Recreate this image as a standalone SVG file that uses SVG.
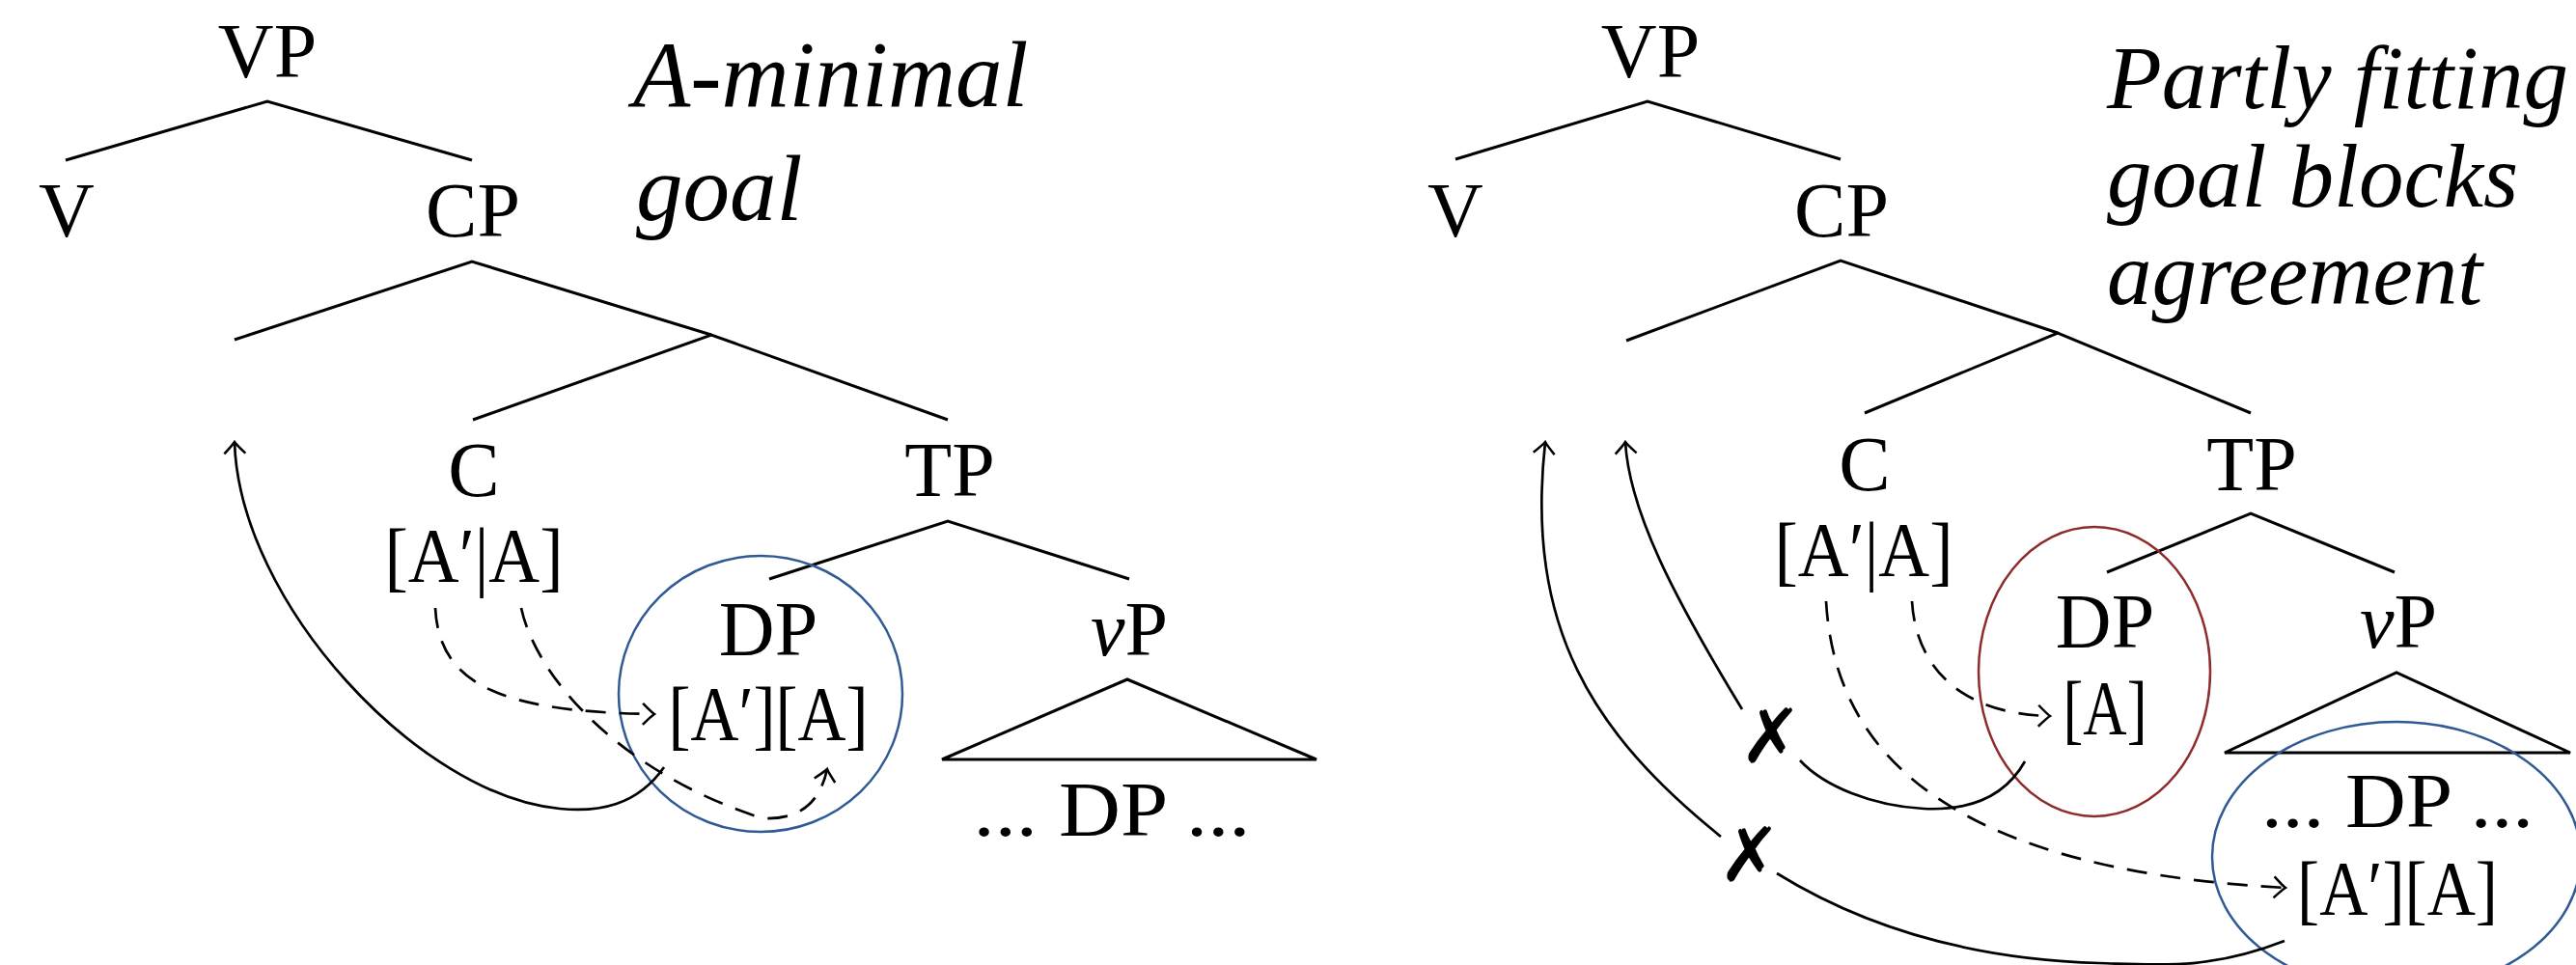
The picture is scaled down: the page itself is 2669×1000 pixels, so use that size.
<svg xmlns="http://www.w3.org/2000/svg" width="2669" height="1000" viewBox="0 0 2669 1000">
<style>
.t{font-family:"Liberation Serif","Times New Roman",serif;font-size:80px;text-anchor:middle;fill:#000}
.ti{font-family:"Liberation Serif","Times New Roman",serif;font-style:italic;fill:#000}
.br{stroke:#000;stroke-width:3;fill:none;stroke-linejoin:miter}
.cv{stroke:#000;stroke-width:2.7;fill:none}
.ds{stroke-dasharray:21 14}
.x{font-family:"DejaVu Sans",sans-serif;font-weight:bold;font-size:78px;text-anchor:middle;fill:#000}
</style>
<defs>
<marker id="ar" markerUnits="userSpaceOnUse" markerWidth="30" markerHeight="30" viewBox="-15 -15 30 30" refX="0" refY="0" orient="auto">
<path d="M-12,-11 Q-3,-2 0,0 Q-3,2 -12,11" fill="none" stroke="#000" stroke-width="2.5"/>
</marker>
</defs>

<g id="titles">
<text class="ti" x="656" y="110" font-size="97">A-minimal</text>
<text class="ti" x="659" y="228" font-size="97">goal</text>
<text class="ti" x="2183" y="112" font-size="93">Partly fitting</text>
<text class="ti" x="2183" y="214" font-size="93">goal blocks</text>
<text class="ti" x="2183" y="315" font-size="93">agreement</text>
</g>

<g id="left-tree">
<g id="L-branches">
<path class="br" d="M68,166 L277,105 L489,166"/>
<path class="br" d="M243,352 L489,271 L737,347"/>
<path class="br" d="M490,435 L737,347 L982,435"/>
<path class="br" d="M797,600 L982,540 L1170,600"/>
</g>
<g id="L-VP"><text class="t" x="277" y="80">VP</text></g>
<g id="L-V"><text class="t" x="69" y="245">V</text></g>
<g id="L-CP"><text class="t" x="490" y="245">CP</text></g>
<g id="L-C"><text class="t" x="491" y="514">C</text><text class="t" x="491" y="603" textLength="185" lengthAdjust="spacingAndGlyphs">[A′|A]</text></g>
<g id="L-TP"><text class="t" x="984" y="514">TP</text></g>
<g id="L-DP"><text class="t" x="796" y="679">DP</text><text class="t" x="796" y="767" textLength="207" lengthAdjust="spacingAndGlyphs">[A′][A]</text>
<ellipse cx="788" cy="719" rx="147" ry="143" fill="none" stroke="#2f5a96" stroke-width="2.5"/></g>
<g id="L-vP"><text class="t" x="1170" y="679"><tspan font-style="italic">v</tspan>P</text>
<path class="br" d="M976,787 L1168,704 L1364,787 Z" stroke-width="3.5"/>
<text class="t" x="1152" y="866" textLength="287" lengthAdjust="spacingAndGlyphs">... DP ...</text></g>
</g>

<g id="right-tree">
<g id="R-branches">
<path class="br" d="M1508,165 L1707,105 L1907,165"/>
<path class="br" d="M1685,353 L1907,270 L2132,345"/>
<path class="br" d="M1932,428 L2132,345 L2332,428"/>
<path class="br" d="M2183,593 L2332,532 L2481,593"/>
</g>
<g id="R-VP"><text class="t" x="1710" y="80">VP</text></g>
<g id="R-V"><text class="t" x="1508" y="245">V</text></g>
<g id="R-CP"><text class="t" x="1908" y="245">CP</text></g>
<g id="R-C"><text class="t" x="1932" y="508">C</text><text class="t" x="1931" y="597" textLength="185" lengthAdjust="spacingAndGlyphs">[A′|A]</text></g>
<g id="R-TP"><text class="t" x="2333" y="508">TP</text></g>
<g id="R-DP"><text class="t" x="2181" y="671">DP</text><text class="t" x="2181" y="761" textLength="87" lengthAdjust="spacingAndGlyphs">[A]</text>
<ellipse cx="2170" cy="696" rx="120" ry="150" fill="none" stroke="#8e2c2c" stroke-width="2.5"/></g>
<g id="R-vP"><text class="t" x="2485" y="671"><tspan font-style="italic">v</tspan>P</text>
<path class="br" d="M2305,780 L2483,697 L2663,780 Z" stroke-width="3.5"/>
<text class="t" x="2484" y="857" textLength="282" lengthAdjust="spacingAndGlyphs">... DP ...</text>
<text class="t" x="2484" y="948" textLength="208" lengthAdjust="spacingAndGlyphs">[A′][A]</text>
<ellipse cx="2483" cy="888" rx="191" ry="140" fill="none" stroke="#2f5a96" stroke-width="2.5"/></g>
</g>

<g id="connectors">
<path class="cv" d="M688,795 C660,835 620,842 580,838 C435,825 248,625 243,458" marker-end="url(#ar)"/>
<path class="cv ds" d="M451,630 C455,710 520,738 678,740" marker-end="url(#ar)"/>
<path class="cv ds" d="M540,630 C555,700 640,800 790,848 C830,850 850,830 857,797" marker-end="url(#ar)"/>

<path class="cv" d="M2098,789 C2075,830 2035,840 1993,838 C1940,835 1890,815 1865,788"/>
<path class="cv" d="M1805,735 C1735,620 1688,530 1684,458" marker-end="url(#ar)"/>
<path class="cv" d="M2367,975 C2290,1005 2240,1000 2175,998 C2040,994 1930,960 1841,905"/>
<path class="cv" d="M1783,867 C1650,760 1580,650 1601,458" marker-end="url(#ar)"/>
<path class="cv ds" d="M1981,623 C1985,690 2030,740 2124,742" marker-end="url(#ar)"/>
<path class="cv ds" d="M1892,623 C1900,760 1990,900 2368,920" marker-end="url(#ar)"/>
<text class="x" x="1835" y="790">✗</text>
<text class="x" x="1813" y="913">✗</text>
</g>
</svg>
